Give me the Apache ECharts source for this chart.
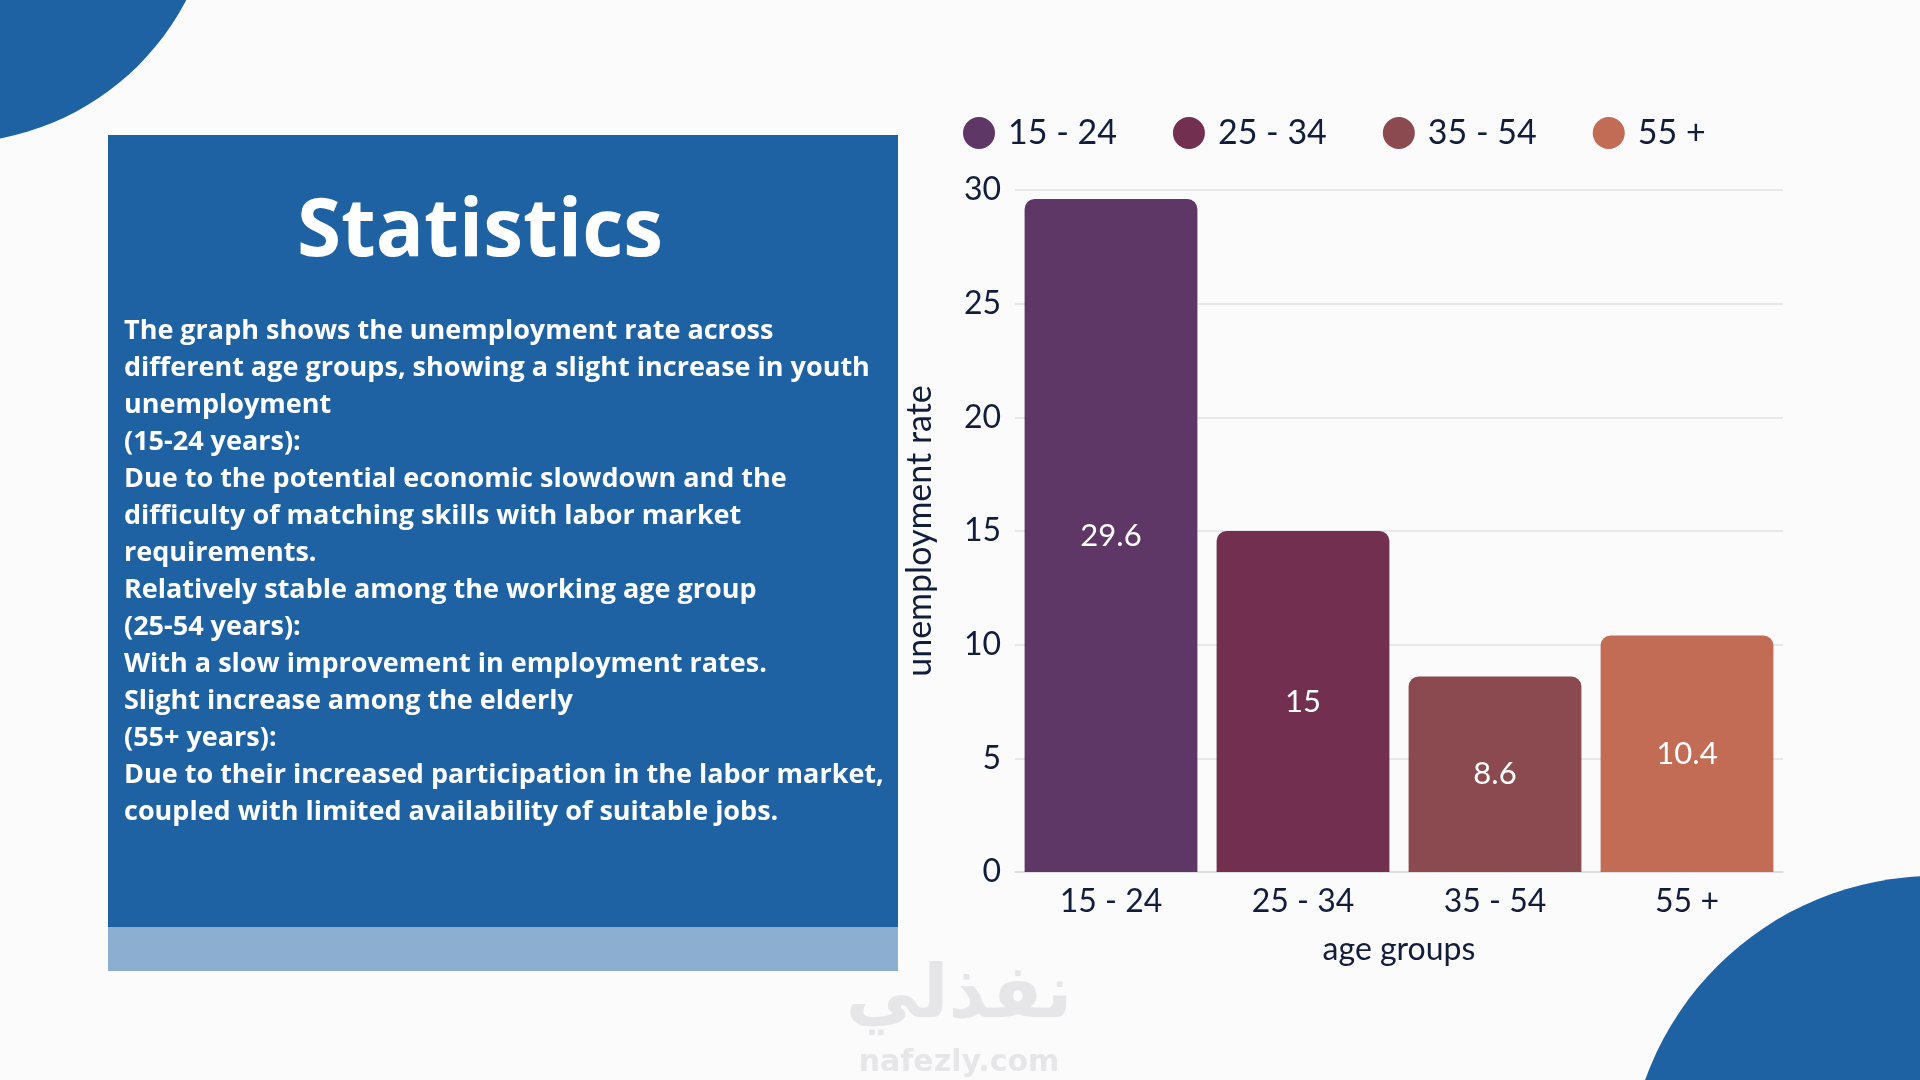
<!DOCTYPE html>
<html>
<head>
<meta charset="utf-8">
<script src="https://cdn.jsdelivr.net/npm/echarts@6/dist/echarts.min.js"></script>
<style>
html,body{margin:0;padding:0;background:#fbfbfc;}
#main{width:1920px;height:1080px;}
</style>
</head>
<body>
<div id="main"></div>
<script>
const categories = ['15 - 24', '25 - 34', '35 - 54', '55 +'];
const values = [29.6, 15, 8.6, 10.4];
const yTicks = [0, 5, 10, 15, 20, 25, 30];
const titleText = 'Statistics';
const bodyLines = [
  'The graph shows the unemployment rate across',
  'different age groups, showing a slight increase in youth',
  'unemployment',
  '(15-24 years):',
  'Due to the potential economic slowdown and the',
  'difficulty of matching skills with labor market',
  'requirements.',
  'Relatively stable among the working age group',
  '(25-54 years):',
  'With a slow improvement in employment rates.',
  'Slight increase among the elderly',
  '(55+ years):',
  'Due to their increased participation in the labor market,',
  'coupled with limited availability of suitable jobs.'
];

const barColors = ['#5e3766', '#722f4f', '#8b4a50', '#c26b55'];
const navy = '#111d3a';
const blue = '#1f62a3';
const chartFont = 'Lato';

const chart = echarts.init(document.getElementById('main'));

const series = categories.map((name, i) => ({
  name: name,
  type: 'bar',
  stack: 'all',
  barWidth: '90%',
  data: categories.map((c, j) => (j === i ? values[j] : '-')),
  itemStyle: { color: barColors[i], borderRadius: [10, 10, 0, 0] },
  label: {
    show: true,
    position: 'inside',
    color: '#ffffff',
    fontSize: 31,
    fontFamily: chartFont
  }
}));

const option = {
  backgroundColor: '#fbfbfc',
  animation: false,
  textStyle: { fontFamily: chartFont },
  legend: {
    left: 958,
    top: 111,
    icon: 'circle',
    itemWidth: 32,
    itemHeight: 32,
    itemGap: 56,
    data: categories,
    textStyle: { color: navy, fontSize: 34, fontFamily: chartFont, padding: [0, 0, 0, 8] }
  },
  grid: { left: 1015, right: 137, top: 190, bottom: 208 },
  xAxis: {
    type: 'category',
    data: categories,
    name: 'age groups',
    nameLocation: 'middle',
    nameGap: 62,
    nameTextStyle: { color: navy, fontSize: 32, fontFamily: chartFont },
    axisLine: { show: true, lineStyle: { color: '#d9d9df', width: 1.5 } },
    axisTick: { show: false },
    axisLabel: { color: navy, fontSize: 32, margin: 14, fontFamily: chartFont }
  },
  yAxis: {
    type: 'value',
    min: yTicks[0],
    max: yTicks[yTicks.length - 1],
    interval: 5,
    name: 'unemployment rate',
    nameLocation: 'middle',
    nameGap: 78,
    nameTextStyle: { color: navy, fontSize: 34, fontFamily: chartFont },
    axisLine: { show: false },
    axisTick: { show: false },
    axisLabel: { color: navy, fontSize: 32, margin: 14, fontFamily: chartFont },
    splitLine: { lineStyle: { color: '#e2e2e6', width: 1.5 } }
  },
  graphic: [
    { type: 'circle', shape: { cx: -49, cy: -122, r: 265 }, style: { fill: blue }, z: -10 },
    { type: 'circle', shape: { cx: 1935, cy: 1184, r: 308 }, style: { fill: blue }, z: -10 },
    { type: 'rect', shape: { x: 108, y: 135, width: 790, height: 792 }, style: { fill: blue }, z: -5 },
    { type: 'rect', shape: { x: 108, y: 927, width: 790, height: 44 }, style: { fill: '#8caed1' }, z: -5 },
    {
      type: 'text', x: 480, y: 233, z: 5,
      style: {
        text: titleText, fill: '#ffffff', font: '700 80px "Open Sans"',
        textAlign: 'center', textVerticalAlign: 'middle'
      }
    },
    {
      type: 'text', x: 124, y: 313, z: 5,
      style: {
        text: bodyLines.join('\n'), fill: '#ffffff', font: '700 27px "Open Sans"',
        lineHeight: 37, textAlign: 'left', textVerticalAlign: 'top'
      }
    },
    {
      type: 'text', x: 959, y: 998, z: -8,
      style: {
        text: 'نفذلي', fill: '#e6e6e8', font: '700 74px "DejaVu Sans"',
        textAlign: 'center', textVerticalAlign: 'middle'
      }
    },
    {
      type: 'text', x: 959, y: 1063, z: -8,
      style: {
        text: 'nafezly.com', fill: '#e6e6e8', font: '700 30px "DejaVu Sans"',
        textAlign: 'center', textVerticalAlign: 'middle'
      }
    }
  ],
  series: series
};

chart.setOption(option);
</script>
</body>
</html>
